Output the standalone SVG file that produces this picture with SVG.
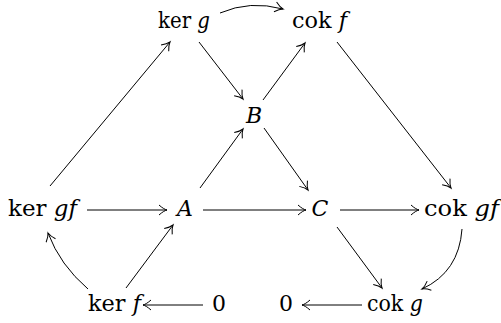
<svg xmlns="http://www.w3.org/2000/svg" width="501" height="323" viewBox="0 0 501 323">
<style>
.t text{font-family:"DejaVu Serif",serif;font-size:22px;fill:#000}
.i{font-style:italic}
.m{text-anchor:middle}
.c path,.c line{fill:none;stroke:#000;stroke-width:1}
</style>
<defs>
<marker id="ah" markerUnits="userSpaceOnUse" markerWidth="20" markerHeight="20" viewBox="-10 -10 20 20" refX="0" refY="0" orient="auto">
<path d="M-8,-5 C-4.5,-1.8 -1.8,-0.5 0,0 C-1.8,0.5 -4.5,1.8 -8,5" fill="none" stroke="#000" stroke-width="1"/>
</marker>
</defs>
<g class="t">
<g id="kerg"><text x="158" y="28" textLength="52" lengthAdjust="spacingAndGlyphs">ker<tspan class="i" dx="7">g</tspan></text></g>
<g id="cokf"><text x="292" y="28" textLength="55" lengthAdjust="spacingAndGlyphs">cok<tspan class="i" dx="7">f</tspan></text></g>
<g id="B"><text class="i m" x="254" y="123">B</text></g>
<g id="kergf"><text x="8" y="216" textLength="69" lengthAdjust="spacingAndGlyphs">ker<tspan class="i" dx="7">gf</tspan></text></g>
<g id="A"><text class="i m" x="185" y="216">A</text></g>
<g id="C"><text class="i m" x="320" y="216">C</text></g>
<g id="cokgf"><text x="424" y="216" textLength="75" lengthAdjust="spacingAndGlyphs">cok<tspan class="i" dx="7">gf</tspan></text></g>
<g id="kerf"><text x="88" y="311" textLength="53" lengthAdjust="spacingAndGlyphs">ker<tspan class="i" dx="7">f</tspan></text></g>
<g id="zero1"><text class="m" x="219" y="311">0</text></g>
<g id="zero2"><text class="m" x="286" y="311">0</text></g>
<g id="cokg"><text x="367" y="311" textLength="56" lengthAdjust="spacingAndGlyphs">cok<tspan class="i" dx="7">g</tspan></text></g>
</g>
<g id="connectors" class="c">
<path d="M220,13 Q250,0 283,9" marker-end="url(#ah)"/>
<line x1="50" y1="186" x2="170" y2="42" marker-end="url(#ah)"/>
<line x1="199" y1="42" x2="243" y2="99" marker-end="url(#ah)"/>
<line x1="263" y1="100" x2="305" y2="43" marker-end="url(#ah)"/>
<line x1="337" y1="42" x2="451" y2="188" marker-end="url(#ah)"/>
<line x1="200" y1="188" x2="243" y2="129" marker-end="url(#ah)"/>
<line x1="264" y1="128" x2="308" y2="190" marker-end="url(#ah)"/>
<line x1="87" y1="210" x2="167" y2="210" marker-end="url(#ah)"/>
<line x1="203" y1="210" x2="306" y2="210" marker-end="url(#ah)"/>
<line x1="340" y1="210" x2="419" y2="210" marker-end="url(#ah)"/>
<line x1="337" y1="227" x2="382" y2="288" marker-end="url(#ah)"/>
<path d="M462,229 Q459,272 422,289" marker-end="url(#ah)"/>
<path d="M88,289 Q60,265 48,233" marker-end="url(#ah)"/>
<line x1="126" y1="288" x2="173" y2="225" marker-end="url(#ah)"/>
<line x1="203" y1="305" x2="143" y2="305" marker-end="url(#ah)"/>
<line x1="362" y1="305" x2="302" y2="305" marker-end="url(#ah)"/>
</g>
</svg>
